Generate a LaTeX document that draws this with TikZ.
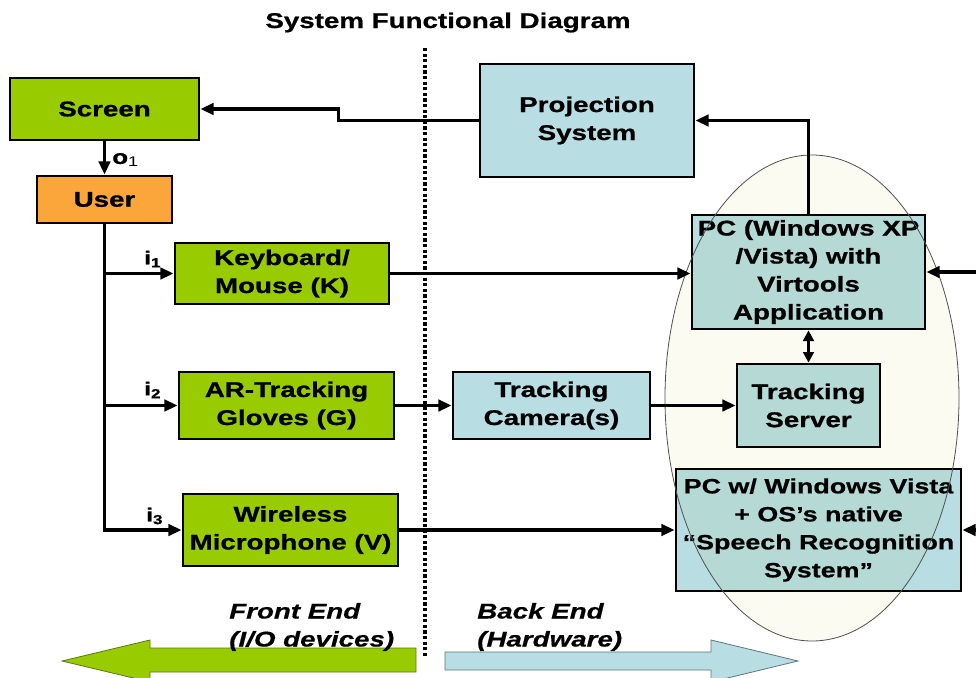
\documentclass[tikz,border=0pt]{standalone}
\usepackage{fontspec}
\setmainfont{Liberation Sans}[FakeStretch=1.3, BoldFeatures={FakeBold=0.8}, BoldItalicFeatures={FakeBold=0.6}]
\usetikzlibrary{arrows.meta}
\definecolor{gfill}{RGB}{153,204,0}
\definecolor{ofill}{RGB}{250,166,58}
\definecolor{bfill}{RGB}{184,221,226}
\definecolor{efill}{RGB}{251,251,241}
\definecolor{eline}{RGB}{80,80,80}
\definecolor{gedge}{RGB}{90,120,20}
\definecolor{bedge}{RGB}{90,120,125}
\begin{document}
\begin{tikzpicture}[x=0.75pt,y=-0.75pt,
  txt/.style={font=\fontsize{16}{21}\selectfont\bfseries, align=center, inner sep=0pt},
  box/.style={txt, draw=black, line width=2pt, rectangle},
  gbox/.style={box, fill=gfill},
  obox/.style={box, fill=ofill},
  bbox/.style={box, fill=bfill},
  bx/.style 2 args={minimum width=0.75pt*#1, minimum height=0.75pt*#2},
  conn/.style={line width=2.5pt, -{Triangle[length=10pt,width=8.5pt]}},
  dconn/.style={line width=2.5pt, {Triangle[length=8pt,width=8pt]}-{Triangle[length=8pt,width=8pt]}},
  dotline/.style={line width=2.6pt, dash pattern=on 2.4pt off 1.8pt},
  lbl/.style={font=\fontsize{14}{15}\selectfont\bfseries, inner sep=0pt, anchor=west},
  endtxt/.style={font=\fontsize{16}{21}\selectfont\bfseries\itshape, align=left, inner sep=0pt, anchor=west}
]
\useasboundingbox (0,0) rectangle (976,678);

% title
\node[txt, anchor=base] (title) at (448,28) {System Functional Diagram};

% dotted divider
\draw[dotline] (425,48) -- (425,658);

% boxes
\node[gbox, bx={189}{62}] (screen) at (104.5,109) {Screen};
\node[obox, bx={135}{47}] (user) at (104.5,199.5) {User};
\node[bbox, bx={214}{113}] (proj) at (587,120.5) {Projection\\System};
\node[bbox, bx={233}{114}] (pcxp) at (808.5,272) {PC (Windows XP\\/Vista) with\\Virtools\\Application};
\node[gbox, bx={214}{61}] (kbd) at (282,273.5) {Keyboard/\\Mouse (K)};
\node[gbox, bx={215}{67}] (glove) at (286.5,405.5) {AR-Tracking\\Gloves (G)};
\node[gbox, bx={215}{72}] (mic) at (290.5,530) {Wireless\\Microphone (V)};
\node[bbox, bx={197}{67}] (cam) at (551.5,405.5) {Tracking\\Camera(s)};
\node[bbox, bx={143}{83}] (server) at (808.5,405.5) {Tracking\\Server};
\node[bbox, bx={285}{122}, font=\fontsize{15.5}{21}\selectfont\bfseries] (speech) at (818.5,530)
  {PC w/ Windows Vista\\+ OS’s native\\“Speech Recognition\\System”};

% ellipse overlay
\begin{scope}[blend mode=multiply]
  \fill[efill] (812,398) ellipse [x radius=147, y radius=243];
\end{scope}
\draw[eline, line width=0.6pt] (812,398) ellipse [x radius=147, y radius=243];

% free ends on the right edge
\coordinate (r1) at (976,272);
\coordinate (r2) at (976,530);

% connectors
\draw[conn] (proj.west) -- ++(-140,0) |- (screen.east);
\draw[conn] (screen.south) -- (user.north);
\draw[conn] (pcxp.north) |- (proj.east);
\draw[conn] (user.south) |- (mic.west);
\draw[conn] (user.south |- kbd.west) -- (kbd.west);
\draw[conn] (user.south |- glove.west) -- (glove.west);
\draw[conn] (kbd.east) -- (kbd.east -| pcxp.west);
\draw[conn] (glove.east) -- (cam.west);
\draw[conn] (cam.east) -- (server.west);
\draw[conn] (mic.east) -- (speech.west);
\draw[dconn] (pcxp.south) -- (server.north);
\draw[conn] (r1) -- (pcxp.east);
\draw[conn] (r2) -- (speech.east);

% small labels
\node[lbl, font=\fontsize{15}{16}\selectfont\bfseries] (o1) at (112,160) {o{\mdseries\textsubscript{1}}};
\node[lbl] (i1) at (144,259) {i\textsubscript{1}};
\node[lbl] (i2) at (144,390) {i\textsubscript{2}};
\node[lbl] (i3) at (146,516) {i\textsubscript{3}};

% bottom block arrows
\draw[fill=gfill, draw=gedge, line width=0.6pt]
  (416,648) -- (150,648) -- (150,640) -- (62,661) -- (150,682) -- (150,672) -- (416,672) -- cycle;
\draw[fill=bfill, draw=bedge, line width=0.6pt]
  (445,652) -- (711,652) -- (711,640) -- (798,661) -- (711,682) -- (711,670) -- (445,670) -- cycle;

\node[endtxt] (fe) at (229,627) {Front End\\(I/O devices)};
\node[endtxt] (be) at (477,627) {Back End\\(Hardware)};
\end{tikzpicture}
\end{document}
